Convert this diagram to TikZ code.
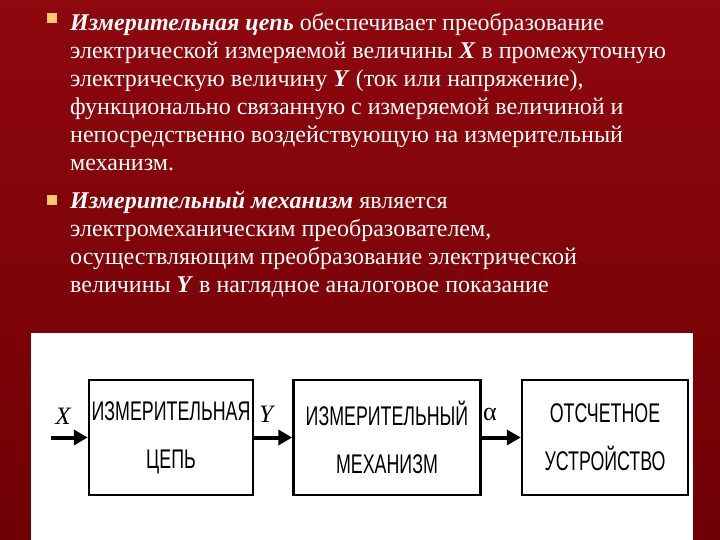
\documentclass[tikz,border=0pt]{standalone}
\usepackage{fontspec}
\setmainfont{Liberation Serif}
\newfontfamily\boxfont[FakeStretch=0.66]{Liberation Sans}
\usetikzlibrary{positioning, arrows.meta}
\definecolor{slidetop}{RGB}{142,8,14}
\definecolor{slidebot}{RGB}{112,0,4}
\definecolor{bulletgold}{RGB}{250,200,110}

\begin{document}
\begin{tikzpicture}[x=1pt, y=-1pt,
  every node/.style={inner sep=0pt},
  bulletbox/.style={fill=bulletgold, minimum size=10pt},
  para/.style={anchor=north west, align=left, text=white,
               font=\fontsize{24}{28}\selectfont},
  block/.style={draw, line width=2.5pt, minimum height=115pt, align=center,
                font=\boxfont\fontsize{27}{48}\selectfont},
  sig/.style={font=\fontsize{25}{25}\selectfont\itshape},
  arrow/.style={-{Triangle[length=14pt, width=15pt]}, line width=4pt}]
\useasboundingbox (0,0) rectangle (720,540);
% slide background and picture panel
\fill[top color=slidetop, bottom color=slidebot] (0,0) rectangle (720,540);
\fill[white] (31,333) rectangle (693,540);

% text
\node[bulletbox] (b1) at (52,18) {};
\node[para] (p1) at (70,13.5) {\textbf{\textit{Измерительная цепь}} обеспечивает преобразование\\
  электрической измеряемой величины \textbf{\textit{X}} в промежуточную\\
  электрическую величину \textbf{\textit{Y}} (ток или напряжение),\\
  функционально связанную с измеряемой величиной и\\
  непосредственно воздействующую на измерительный\\
  механизм.};
\node[bulletbox] (b2) at (52,200) {};
\node[para] (p2) at (70,191.5) {\textbf{\textit{Измерительный механизм}} является\\
  электромеханическим преобразователем,\\
  осуществляющим преобразование электрической\\
  величины \textbf{\textit{Y}} в наглядное аналоговое показание};

% block diagram
\node[block, minimum width=164pt] (cepi) at (171,437.5) {ИЗМЕРИТЕЛЬНАЯ\\ЦЕПЬ};
\node[block, minimum width=187pt, right=38pt of cepi] (mech) {ИЗМЕРИТЕЛЬНЫЙ\\МЕХАНИЗМ};
\node[block, minimum width=166pt, right=39pt of mech] (otsch) {ОТСЧЕТНОЕ\\УСТРОЙСТВО};
\coordinate (in) at (51,437.5);
\draw[arrow] (in) -- (cepi);
\draw[arrow] (cepi) -- (mech);
\draw[arrow] (mech) -- (otsch);
\node[sig] (x) at (63,416) {X};
\node[sig] (y) at (266,414) {Y};
\node[font=\fontsize{26}{26}\selectfont] (a) at (490,414) {α};
\end{tikzpicture}
\end{document}
